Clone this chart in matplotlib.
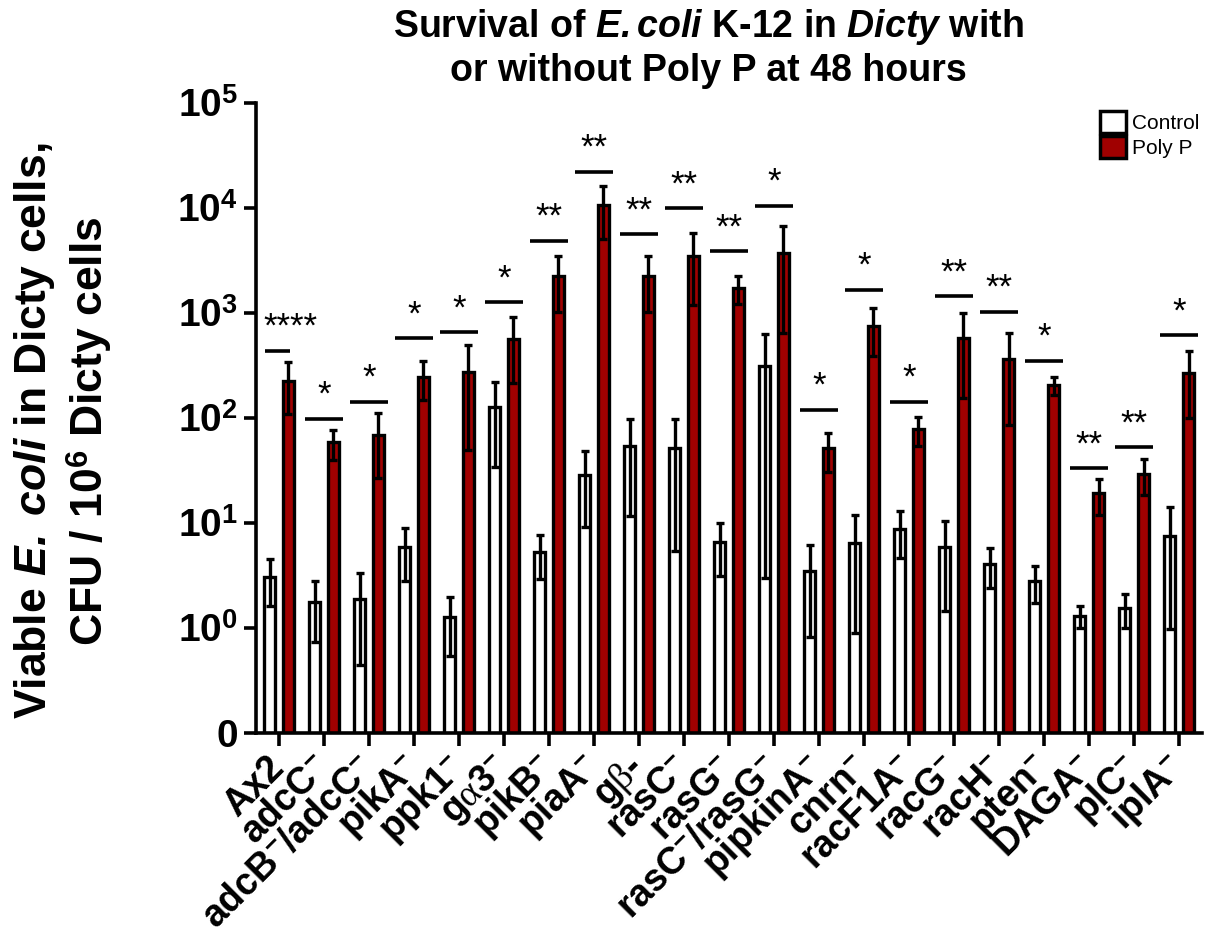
import matplotlib
matplotlib.use('Agg')
import matplotlib.pyplot as plt
import numpy as np
from matplotlib.patches import Patch

plt.rcParams['font.family'] = ['Liberation Sans', 'DejaVu Sans']
plt.rcParams['mathtext.fontset'] = 'custom'
plt.rcParams['mathtext.rm'] = 'Liberation Sans:bold'
plt.rcParams['mathtext.bf'] = 'Liberation Sans:bold'
plt.rcParams['mathtext.it'] = 'Liberation Serif'
plt.rcParams['mathtext.bfit'] = 'Liberation Sans:bold:italic'

strains = ["Ax2", "adcC$^{-}$", "adcB$^{-}$/adcC$^{-}$", "pikA$^{-}$", "ppk1$^{-}$",
           "g$\\alpha$3$^{-}$", "pikB$^{-}$", "piaA$^{-}$", "g$\\beta$-", "rasC$^{-}$",
           "rasG$^{-}$", "rasC$^{-}$/rasG$^{-}$", "pipkinA$^{-}$", "cnrn$^{-}$",
           "racF1A$^{-}$", "racG$^{-}$", "racH$^{-}$", "pten$^{-}$", "DAGA$^{-}$",
           "plC$^{-}$", "iplA$^{-}$"]

control = [3.06, 1.78, 1.89, 5.9, 1.26, 126, 5.3, 28.7, 54.6, 51.4,
           6.55, 315, 3.52, 6.4, 8.77, 5.94, 4.07, 2.82, 1.31, 1.55, 7.57]
control_err = [1.45, 1.04, 1.45, 3.1, 0.72, 92, 2.4, 19.5, 43, 46,
               3.45, 312, 2.7, 5.5, 4.1, 4.5, 1.65, 1.1, 0.31, 0.55, 6.6]

polyp = [225, 58.6, 68.9, 248, 272, 565, 2270, 10700, 2270, 3510,
         1720, 3700, 51.4, 747, 78.5, 574, 365, 206, 19.2, 29.3, 268]
polyp_err = [116, 18.5, 42, 99, 222, 350, 1250, 5600, 1240, 2320,
             510, 3050, 21, 360, 24, 420, 280, 41, 7.2, 11, 168]

stars = ["****", "*", "*", "*", "*", "*", "**", "**", "**", "**", "**",
         "*", "*", "*", "*", "**", "**", "*", "**", "**", "*"]
sig_y = [435, 98, 143, 574, 654, 1265, 4890, 22200, 5650, 10000, 3870,
         10500, 120, 1670, 143, 1440, 1030, 352, 33.2, 52.6, 617]

red = '#A00000'

fig = plt.figure(figsize=(12.06, 9.47), dpi=100)
ax = fig.add_axes([0.2123, 0.226, 0.7844, 0.6652])
ax.set_yscale('log')

x = np.arange(len(strains))
w = 0.26
off = 0.21
ax.bar(x - off, control, w, color='white', edgecolor='black', linewidth=2.4, zorder=2)
ax.bar(x + off, polyp, w, color=red, edgecolor='black', linewidth=2.4, zorder=2)
ax.errorbar(x - off, control, yerr=control_err, fmt='none', ecolor='black',
            elinewidth=2.4, capsize=3, capthick=2.4, zorder=3)
ax.errorbar(x + off, polyp, yerr=polyp_err, fmt='none', ecolor='black',
            elinewidth=2.4, capsize=3, capthick=2.4, zorder=3)

# significance bars
for i, (s, yv) in enumerate(zip(stars, sig_y)):
    if i == 0:
        x0, x1, xt = -0.31, 0.24, 0.25
    else:
        x0, x1, xt = i - 0.43, i + 0.43, i
    ax.plot([x0, x1], [yv, yv], color='black', lw=2.6, solid_capstyle='butt',
            clip_on=False, zorder=4)
    ax.annotate(s, (xt, yv), xytext=(0, 10), textcoords='offset points',
                ha='center', va='baseline', fontsize=25, annotation_clip=False)

ax.set_xlim(-0.51, 20.51)
ax.set_ylim(0.1, 1e5)
ax.set_yticks([0.1, 1, 10, 100, 1e3, 1e4, 1e5])
ax.set_yticklabels(["0"] + ["10$^{%d}$" % k for k in range(6)])
ax.minorticks_off()
ax.set_xticks(x)
ax.set_xticklabels(strains, rotation=45, ha='right', va='center',
                   rotation_mode='anchor', fontsize=27, fontweight='bold')
for lab in ax.get_yticklabels():
    lab.set_fontweight('bold')
    lab.set_fontsize(28)

for sp in ['top', 'right']:
    ax.spines[sp].set_visible(False)
for sp in ['left', 'bottom']:
    ax.spines[sp].set_linewidth(2.6)
ax.tick_params(axis='both', width=2.6, length=9, direction='out')
ax.tick_params(axis='y', pad=4)
ax.tick_params(axis='x', pad=12)

fig.text(0.052, 0.545,
         "Viable $\\mathbfit{E.\\ coli}$ in Dicty cells,\nCFU / 10$^{6}$ Dicty cells",
         rotation=90, ha='center', va='center', multialignment='center',
         fontsize=32, fontweight='bold', linespacing=1.2)

fig.text(0.587, 0.949,
         "Survival of $\\mathbfit{E.coli}$ K-12 in $\\mathbfit{Dicty}$ with\nor without Poly P at 48 hours",
         ha='center', va='center', multialignment='center',
         fontsize=27, fontweight='bold', linespacing=1.2)

handles = [Patch(facecolor='white', edgecolor='black', linewidth=2.5, label='Control'),
           Patch(facecolor=red, edgecolor='black', linewidth=2.5, label='Poly P')]
fig.legend(handles=handles, loc='upper left', bbox_to_anchor=(0.912, 0.883),
           frameon=False, fontsize=15, handlelength=1.25, handleheight=1.25,
           handletextpad=0.3, labelspacing=0.15, borderpad=0, borderaxespad=0)

fig.savefig('out.png', dpi=100)
